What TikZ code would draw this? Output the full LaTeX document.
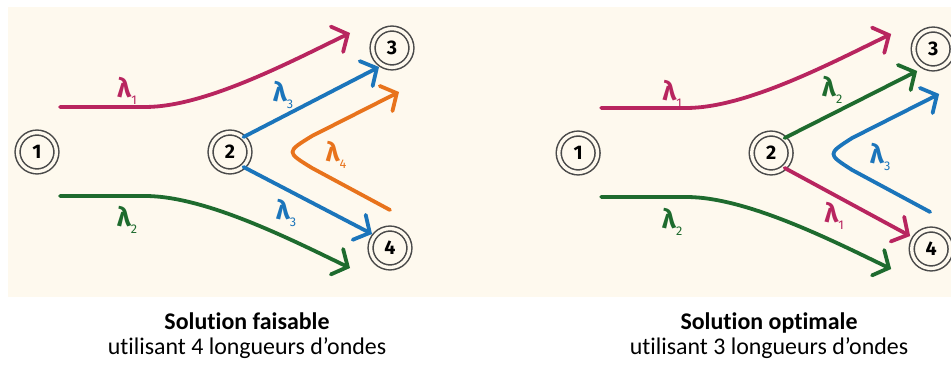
\documentclass[tikz,border=0pt]{standalone}
\usepackage{fontspec}
\setmainfont{Carlito}[Ligatures=NoCommon]
\newfontfamily\lamfont{Fira Sans}
\usetikzlibrary{arrows.meta}
\definecolor{cream}{HTML}{FEF9EE}
\definecolor{ringgray}{HTML}{4A4A4A}
\definecolor{wlred}{HTML}{B8255F}
\definecolor{wlgreen}{HTML}{1E6B2E}
\definecolor{wlblue}{HTML}{1B75BB}
\definecolor{wlorange}{HTML}{E8731C}
\newcommand{\wl}[1]{λ\raisebox{-0.5ex}{\mdseries\fontsize{9}{9}\selectfont #1}}

\begin{document}
\begin{tikzpicture}[
			x=0.025cm, y=-0.025cm,
			stn/.style={circle, draw=ringgray, double=cream, double distance=2.4pt,
				line width=1.1pt, minimum size=0.97cm, inner sep=0pt,
				font=\lamfont\bfseries\fontsize{14}{14}\selectfont},
			lp/.style={line width=2.7pt, line cap=round, line join=round,
				-{Straight Barb[length=8.5pt, width=20pt, line cap=round]}},
			lab/.style={font=\lamfont\bfseries\fontsize{19}{19}\selectfont, inner sep=0pt},
			capt/.style={align=center, font=\fontsize{17}{18}\selectfont}
			]

			\useasboundingbox (0,0) rectangle (951,365);
			\fill[cream] (8,7) rectangle (951,297);

			% feasible solution
			\begin{scope}
				\node[stn] (a1) at (37,152) {1};
				\node[stn] (a2) at (230,152) {2};
				\node[stn] (a3) at (392,48) {3};
				\node[stn] (a4) at (390,248) {4};

				\coordinate (a1r) at (60,107);
				\coordinate (a1g) at (60,196);
				\coordinate (a3r) at (350,33);
				\coordinate (a4g) at (350,268);
				\coordinate (a3b) at (379,67);
				\coordinate (a4b) at (372,234);
				\coordinate (a4o) at (390,210);
				\coordinate (a3o) at (399,92);

				\draw[lp, wlred] (a1r) -- ++(85,0) .. controls +(60,0) and +(-60,29) .. (a3r);
				\draw[lp, wlgreen] (a1g) -- ++(85,0) .. controls +(60,0) and +(-60,-29) .. (a4g);
				\draw[lp, wlblue] (a2.48) -- (a3b);
				\draw[lp, wlblue] (a2.-48) -- (a4b);
				\draw[lp, wlorange] (a4o) -- (312,168) .. controls (286,152) and (286,152) .. (312,136) -- (a3o);

				\node[lab, wlred] (a1l) at (127,91) {\wl{1}};
				\node[lab, wlgreen] (a2l) at (127,220) {\wl{2}};
				\node[lab, wlblue] (a3l) at (283,95) {\wl{3}};
				\node[lab, wlblue] (a3m) at (286,213) {\wl{3}};
				\node[lab, wlorange] (a4l) at (336,155) {\wl{4}};
			\end{scope}

			% optimal solution
			\begin{scope}[xshift=13.525cm, yshift=-0.025cm]
				\node[stn] (b1) at (37,152) {1};
				\node[stn] (b2) at (230,152) {2};
				\node[stn] (b3) at (392,48) {3};
				\node[stn] (b4) at (390,248) {4};

				\coordinate (b1r) at (60,107);
				\coordinate (b1g) at (60,196);
				\coordinate (b3r) at (350,33);
				\coordinate (b4g) at (350,268);
				\coordinate (b3g) at (376,70);
				\coordinate (b4r) at (369,235);
				\coordinate (b4b) at (389,211);
				\coordinate (b3b) at (398,93);

				\draw[lp, wlred] (b1r) -- ++(85,0) .. controls +(60,0) and +(-60,29) .. (b3r);
				\draw[lp, wlgreen] (b1g) -- ++(85,0) .. controls +(60,0) and +(-60,-29) .. (b4g);
				\draw[lp, wlgreen] (b2.48) -- (b3g);
				\draw[lp, wlred] (b2.-48) -- (b4r);
				\draw[lp, wlblue] (b4b) -- (311,169) .. controls (286,153) and (286,153) .. (311,137) -- (b3b);

				\node[lab, wlred] (b1l) at (131,93) {\wl{1}};
				\node[lab, wlgreen] (b2l) at (131,221) {\wl{2}};
				\node[lab, wlgreen] (b2m) at (291,89) {\wl{2}};
				\node[lab, wlred] (b1m) at (293,215) {\wl{1}};
				\node[lab, wlblue] (b3l) at (339,156) {\wl{3}};
			\end{scope}

			\node[capt] (acap) at (247,336) {\textbf{Solution faisable}\\utilisant 4 longueurs d’ondes};
			\node[capt] (bcap) at (769,336) {\textbf{Solution optimale}\\utilisant 3 longueurs d’ondes};

		\end{tikzpicture}
\end{document}
